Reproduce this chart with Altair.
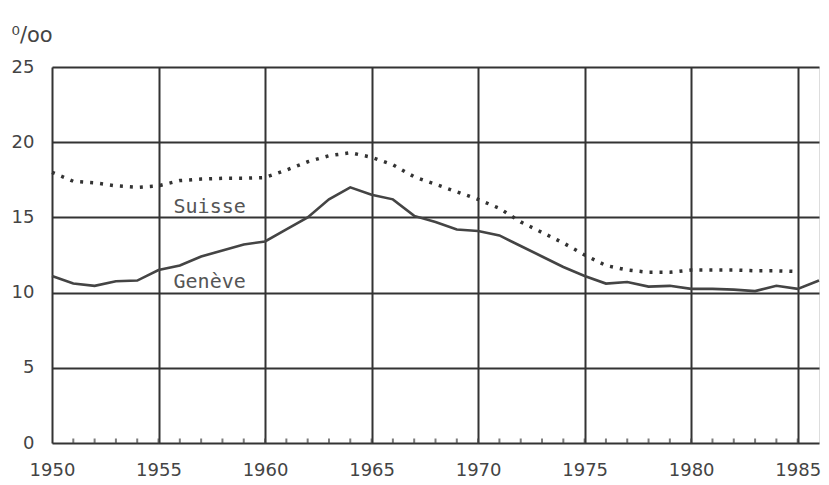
import altair as alt
import pandas as pd

years = list(range(1950, 1987))
geneve = [11.1, 10.6, 10.45, 10.75, 10.8, 11.5, 11.8, 12.4, 12.8, 13.2,
          13.4, 14.2, 15.0, 16.2, 17.0, 16.5, 16.2, 15.1, 14.7, 14.2,
          14.1, 13.8, 13.1, 12.4, 11.7, 11.1, 10.6, 10.7, 10.4, 10.45,
          10.25, 10.25, 10.2, 10.1, 10.45, 10.25, 10.8]
suisse_years = list(range(1950, 1986))
suisse = [18.0, 17.4, 17.3, 17.1, 17.0, 17.1, 17.45, 17.55, 17.6, 17.6,
          17.65, 18.15, 18.7, 19.1, 19.3, 19.0, 18.5, 17.7, 17.2, 16.7,
          16.2, 15.6, 14.7, 14.0, 13.3, 12.5, 11.8, 11.5, 11.35, 11.35,
          11.5, 11.5, 11.5, 11.45, 11.45, 11.4]
label_text = ["Suisse", "Genève"]
label_x = [1957.4, 1957.4]
label_y = [15.7, 10.7]
x_ticks = [1950, 1955, 1960, 1965, 1970, 1975, 1980, 1985]
y_ticks = [0, 5, 10, 15, 20, 25]
minor_years = list(range(1951, 1986))

gen_df = pd.DataFrame({"year": years, "v": geneve})
sui_df = pd.DataFrame({"year": suisse_years, "v": suisse})
lab_df = pd.DataFrame({"t": label_text, "x": label_x, "y": label_y})
minor_df = pd.DataFrame({"year": minor_years, "v": [0] * len(minor_years)})

xs = alt.Scale(domain=[1950, 1986], nice=False, zero=False)
ys = alt.Scale(domain=[0, 25], nice=False)

xaxis = alt.Axis(values=x_ticks, format="d", title=None, grid=True,
                 gridColor="#333", gridWidth=2, gridOpacity=1,
                 domain=False, ticks=False, labelFont="DejaVu Sans",
                 labelFontSize=18, labelColor="#444", labelPadding=18,
                 labelFlush=False)
yaxis = alt.Axis(values=y_ticks, title="⁰/oo", titleAngle=0, titleX=-41,
                 titleY=-26, titleAlign="left", titleBaseline="alphabetic",
                 titleFont="DejaVu Sans", titleFontSize=21, titleFontWeight="normal",
                 titleColor="#444", grid=True, gridColor="#333", gridWidth=2,
                 gridOpacity=1, domain=False, ticks=False, labelFont="DejaVu Sans",
                 labelFontSize=18, labelColor="#444", labelPadding=18)

base_g = alt.Chart(gen_df).mark_line(color="#444", strokeWidth=2.6).encode(
    x=alt.X("year:Q", scale=xs, axis=xaxis),
    y=alt.Y("v:Q", scale=ys, axis=yaxis),
)
sui = alt.Chart(sui_df).mark_line(color="#333", strokeWidth=3.5,
                                  strokeDash=[3, 7], strokeCap="butt").encode(
    x=alt.X("year:Q", scale=xs), y=alt.Y("v:Q", scale=ys)
)
labels = alt.Chart(lab_df).mark_text(font="DejaVu Sans Mono", fontSize=20,
                                     color="#555").encode(
    x=alt.X("x:Q", scale=xs), y=alt.Y("y:Q", scale=ys), text="t:N"
)
minor = alt.Chart(minor_df).mark_tick(orient="vertical", size=5, thickness=2,
                                      color="#444", yOffset=-2).encode(
    x=alt.X("year:Q", scale=xs), y=alt.Y("v:Q", scale=ys)
)

chart = alt.layer(sui, base_g, minor, labels).properties(
    width=767, height=376,
    autosize=alt.AutoSizeParams(type="none"),
    padding={"left": 44, "top": 59, "right": 2, "bottom": 40},
).configure_view(stroke="#333", strokeWidth=2).configure(background="white")

chart.save("out.html", embed_options={"renderer": "svg", "actions": False})
